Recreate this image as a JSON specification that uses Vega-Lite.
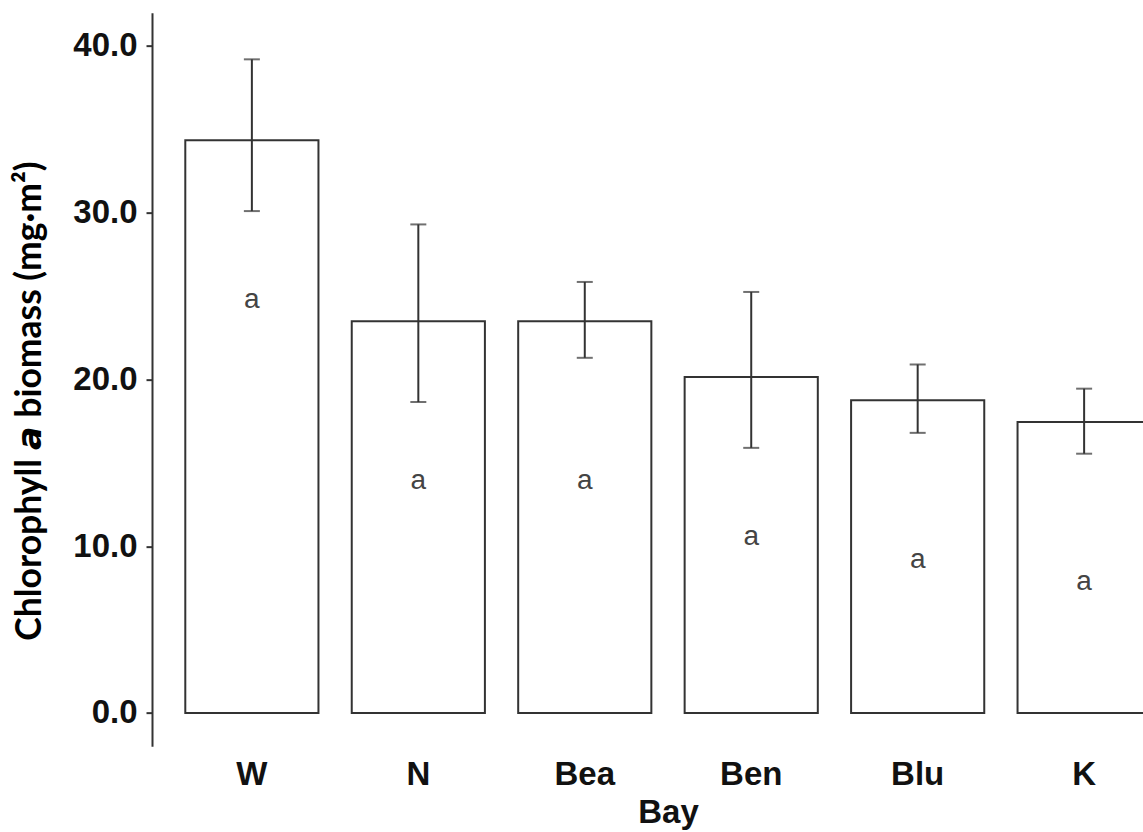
{
  "$schema": "https://vega.github.io/schema/vega-lite/v6.json",
  "autosize": {"type": "none"},
  "width": 1032,
  "height": 733.7,
  "padding": {"left": 152, "top": 12.65, "right": 0, "bottom": 86},
  "background": "white",
  "config": {
    "view": {"stroke": null},
    "font": "Liberation Sans"
  },
  "data": {
    "values": [
      {"bay": "W", "mean": 34.35, "lo": 30.1, "hi": 39.2, "group": "a"},
      {"bay": "N", "mean": 23.5, "lo": 18.65, "hi": 29.3, "group": "a"},
      {"bay": "Bea", "mean": 23.5, "lo": 21.3, "hi": 25.85, "group": "a"},
      {"bay": "Ben", "mean": 20.15, "lo": 15.9, "hi": 25.25, "group": "a"},
      {"bay": "Blu", "mean": 18.75, "lo": 16.8, "hi": 20.9, "group": "a"},
      {"bay": "K", "mean": 17.45, "lo": 15.55, "hi": 19.45, "group": "a"}
    ]
  },
  "encoding": {
    "x": {
      "field": "bay",
      "type": "nominal",
      "sort": ["W", "N", "Bea", "Ben", "Blu", "K"],
      "scale": {"paddingInner": 0.2, "paddingOuter": 0.2},
      "axis": {
        "title": "Bay",
        "labelAngle": 0,
        "domain": false,
        "ticks": false,
        "tickSize": 0,
        "labelFont": "Liberation Sans",
        "labelFontSize": 33,
        "labelFontWeight": "bold",
        "labelColor": "#111111",
        "labelBaseline": "alphabetic",
        "labelPadding": 38,
        "titleFont": "Liberation Sans",
        "titleFontSize": 33,
        "titleFontWeight": "bold",
        "titleColor": "#111111",
        "titleBaseline": "alphabetic",
        "titleY": 76.6
      }
    }
  },
  "layer": [
    {
      "mark": {"type": "bar", "fill": "white", "stroke": "#333333", "strokeWidth": 2},
      "encoding": {
        "y": {
          "field": "mean",
          "type": "quantitative",
          "scale": {"domain": [-2, 42], "nice": false, "zero": false},
          "axis": {
            "title": "Chlorophyll 𝙖 biomass (mg·m²)",
            "values": [0, 10, 20, 30, 40],
            "format": ".1f",
            "grid": false,
            "domainColor": "#333333",
            "domainWidth": 2,
            "tickColor": "#333333",
            "tickWidth": 2,
            "tickSize": 6,
            "labelPadding": 9,
            "labelFont": "Liberation Sans",
            "labelFontSize": 33,
            "labelFontWeight": "bold",
            "labelColor": "#111111",
            "titleFont": "Lato",
            "titleFontSize": 35.5,
            "titleFontWeight": "bold",
            "titleColor": "#000000",
            "titleBaseline": "alphabetic",
            "titleX": -112,
            "titleY": 388
          }
        },
        "y2": {"datum": 0}
      }
    },
    {
      "mark": {"type": "rule", "stroke": "#333333", "strokeWidth": 2},
      "encoding": {
        "y": {"field": "lo", "type": "quantitative"},
        "y2": {"field": "hi"}
      }
    },
    {
      "mark": {"type": "tick", "color": "#333333", "size": 16, "thickness": 2, "orient": "horizontal"},
      "encoding": {"y": {"field": "lo", "type": "quantitative"}}
    },
    {
      "mark": {"type": "tick", "color": "#333333", "size": 16, "thickness": 2, "orient": "horizontal"},
      "encoding": {"y": {"field": "hi", "type": "quantitative"}}
    },
    {
      "mark": {"type": "text", "font": "Liberation Sans", "fontSize": 28, "color": "#444444", "baseline": "middle", "dy": 160},
      "encoding": {
        "y": {"field": "mean", "type": "quantitative"},
        "text": {"field": "group"}
      }
    }
  ]
}
